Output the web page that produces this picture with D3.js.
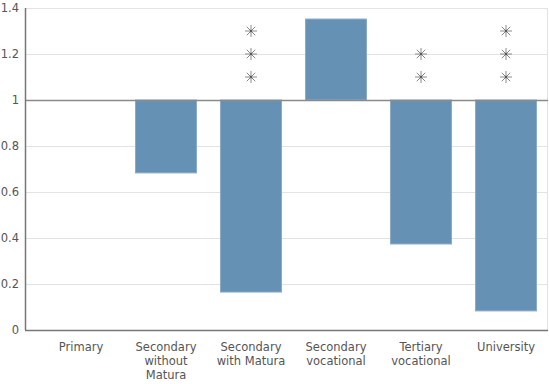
<!DOCTYPE html>
<html><head><meta charset="utf-8">
<script src="https://cdn.jsdelivr.net/npm/d3@7"></script>
<style>body{margin:0;background:#fff}svg{display:block}text{font-family:"DejaVu Sans",Verdana,sans-serif}</style>
</head><body><svg id="c" width="549" height="384"></svg>
<script>
const categories = ["Primary","Secondary\nwithout\nMatura","Secondary\nwith Matura","Secondary\nvocational","Tertiary\nvocational","University"];
const values = [1, 0.683, 0.165, 1.352, 0.374, 0.083];
const stars = [0, 0, 3, 0, 2, 3];
const yTicks = [0, 0.2, 0.4, 0.6, 0.8, 1, 1.2, 1.4];
const starLevels = [1.1, 1.2, 1.3];

const svg = d3.select("#c");
const mLeft = 25, mRight = 548, mTop = 8, mBottom = 330;
const y = d3.scaleLinear().domain([0, 1.4]).range([mBottom, mTop]);
const x = d3.scaleBand().domain(categories).range([38.5, 548.5]).paddingInner(0.27).paddingOuter(0.135);

// grid
svg.append("g").selectAll("line").data(yTicks.filter(d => d !== 0 && d !== 1)).join("line")
  .attr("x1", mLeft).attr("x2", mRight).attr("y1", d => Math.round(y(d)) + 0.5).attr("y2", d => Math.round(y(d)) + 0.5)
  .attr("stroke", "#e3e3e3").attr("stroke-width", 1);
// right border
svg.append("line").attr("x1", 547.5).attr("x2", 547.5).attr("y1", y(1.4)).attr("y2", mBottom)
  .attr("stroke", "#e3e3e3");

// bars
svg.append("g").selectAll("rect").data(categories.map((c, i) => ({c, v: values[i]}))).join("rect")
  .attr("x", d => x(d.c) + 0.5).attr("width", x.bandwidth() - 1)
  .attr("y", d => y(Math.max(d.v, 1))).attr("height", d => Math.abs(y(d.v) - y(1)))
  .attr("fill", "#6592b4").attr("stroke", "#8cacc6").attr("stroke-width", 1);

// baseline at 1
svg.append("line").attr("x1", mLeft).attr("x2", mRight).attr("y1", Math.round(y(1)) + 0.5).attr("y2", Math.round(y(1)) + 0.5)
  .attr("stroke", "#8a8a8a").attr("stroke-width", 1.5);

// stars
const starData = [];
categories.forEach((c, i) => { for (let k = 0; k < stars[i]; k++) starData.push({c, v: starLevels[k]}); });
const starG = svg.append("g").selectAll("g").data(starData).join("g")
  .attr("transform", d => `translate(${x(d.c) + x.bandwidth() / 2},${y(d.v)})`);
[0, 45, 90, 135].forEach(a => {
  starG.append("line").attr("x1", -6).attr("x2", 6).attr("y1", 0).attr("y2", 0)
    .attr("transform", `rotate(${a})`).attr("stroke", "#808080").attr("stroke-width", 0.9);
});
starG.append("circle").attr("r", 1.2).attr("fill", "#555");

// y axis
const yAxis = svg.append("g").attr("transform", `translate(${mLeft},0)`)
  .call(d3.axisLeft(y).tickValues(yTicks).tickSize(0).tickPadding(6).tickFormat(d => d3.format("~g")(d)));
yAxis.select(".domain").attr("stroke", "#777").attr("stroke-width", 1.5).attr("d", `M0.5,${y(1.4)}V${mBottom}`);
yAxis.selectAll("text").attr("fill", "#555").attr("font-size", 11.5).attr("font-family", "DejaVu Sans");

// x axis
const xAxis = svg.append("g").attr("transform", `translate(0,${mBottom})`)
  .call(d3.axisBottom(x).tickSize(0).tickPadding(13));
xAxis.select(".domain").attr("stroke", "#777").attr("stroke-width", 1.5).attr("d", `M${mLeft},0.5H${mRight}`);
xAxis.selectAll("text").attr("fill", "#555").attr("font-size", 11.5).attr("font-family", "DejaVu Sans")
  .each(function(d) {
    const t = d3.select(this); const lines = d.split("\n");
    t.text(null);
    lines.forEach((l, i) => t.append("tspan").attr("x", 0).attr("dy", i === 0 ? "0.71em" : "1.22em").text(l));
  });
</script></body></html>
